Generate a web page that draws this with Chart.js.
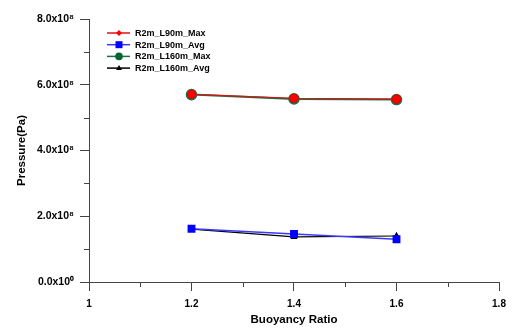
<!DOCTYPE html>
<html>
<head>
<meta charset="utf-8">
<script src="https://cdn.jsdelivr.net/npm/chart.js@4.4.0/dist/chart.umd.min.js"></script>
<style>
  body { margin: 0; background: #fff; }
  canvas { display: block; }
</style>
</head>
<body>
<canvas id="chart" width="515" height="332"></canvas>
<script>
const ratios = [1.2, 1.4, 1.6];
const l90Max = [5.71e8, 5.59e8, 5.56e8];
const l90Avg = [1.62e8, 1.46e8, 1.30e8];
const l160Max = [5.70e8, 5.57e8, 5.55e8];
const l160Avg = [1.61e8, 1.37e8, 1.40e8];
const seriesNames = ['R2m_L90m_Max', 'R2m_L90m_Avg', 'R2m_L160m_Max', 'R2m_L160m_Avg'];

const sup = {'0': '\u2070', '8': '\u2078'};
const font = 'Liberation Sans, Arial, sans-serif';

function toPoints(values) {
    return ratios.map((x, i) => ({x: x, y: values[i]}));
}

// legend box drawn inside the plot, plus minor ticks
const extras = {
    id: 'extras',
    afterDraw(chart) {
        const ctx = chart.ctx;
        const xs = chart.scales.x, ys = chart.scales.y;
        ctx.save();
        ctx.strokeStyle = '#444';
        ctx.lineWidth = 1;
        ctx.beginPath();
        for (let v = 1e8; v < 8e8; v += 2e8) {
            const py = Math.round(ys.getPixelForValue(v)) + 0.5;
            ctx.moveTo(xs.left - 5, py);
            ctx.lineTo(xs.left, py);
        }
        for (let v = 1.1; v < 1.8; v += 0.2) {
            const px = Math.round(xs.getPixelForValue(v)) + 0.5;
            ctx.moveTo(px, ys.bottom);
            ctx.lineTo(px, ys.bottom + 5);
        }
        ctx.stroke();

        const lx = 107, ly = 33, gap = 11.7;
        ctx.font = 'bold 9px ' + font;
        ctx.textBaseline = 'middle';
        chart.data.datasets.forEach((ds, i) => {
            const y = ly + i * gap;
            ctx.strokeStyle = ds.borderColor;
            ctx.lineWidth = 1.5;
            ctx.beginPath();
            ctx.moveTo(lx, y);
            ctx.lineTo(lx + 23, y);
            ctx.stroke();
            ctx.fillStyle = ds.pointBackgroundColor;
            const cx = lx + 12;
            ctx.beginPath();
            if (ds.legendMark === 'diamond') {
                ctx.moveTo(cx, y - 3); ctx.lineTo(cx + 3, y); ctx.lineTo(cx, y + 3); ctx.lineTo(cx - 3, y);
            } else if (ds.legendMark === 'square') {
                ctx.rect(cx - 3.5, y - 3.5, 7, 7);
            } else if (ds.legendMark === 'circle') {
                ctx.arc(cx, y, 3.8, 0, Math.PI * 2);
            } else {
                ctx.moveTo(cx, y - 3); ctx.lineTo(cx + 3, y + 2); ctx.lineTo(cx - 3, y + 2);
            }
            ctx.closePath();
            ctx.fill();
            ctx.fillStyle = '#000';
            ctx.fillText(seriesNames[i], lx + 28, y + 0.5);
        });
        ctx.restore();
    }
};

new Chart(document.getElementById('chart'), {
    type: 'line',
    data: {
        datasets: [
            {
                label: seriesNames[0], data: toPoints(l90Max), legendMark: 'diamond',
                borderColor: '#e01010', backgroundColor: '#ff0000', pointBackgroundColor: '#ff0000',
                pointBorderColor: '#e80000', pointStyle: 'circle', pointRadius: 4, borderWidth: 1.2
            },
            {
                label: seriesNames[1], data: toPoints(l90Avg), legendMark: 'square',
                borderColor: '#3a3aff', backgroundColor: '#0000ff', pointBackgroundColor: '#0000ff',
                pointBorderColor: '#0000ff', pointStyle: 'rect', pointRadius: 4.5, borderWidth: 1.5
            },
            {
                label: seriesNames[2], data: toPoints(l160Max), legendMark: 'circle',
                borderColor: '#1e6e46', backgroundColor: '#006633', pointBackgroundColor: '#006633',
                pointBorderColor: '#1e6e46', pointStyle: 'circle', pointRadius: 4.8, borderWidth: 2
            },
            {
                label: seriesNames[3], data: toPoints(l160Avg), legendMark: 'triangle',
                borderColor: '#000000', backgroundColor: '#000000', pointBackgroundColor: '#000000',
                pointBorderColor: '#000000', pointStyle: 'triangle', pointRadius: 3, borderWidth: 1.2
            }
        ]
    },
    options: {
        responsive: false,
        animation: false,
        layout: {padding: {top: 19, right: 16, left: 0, bottom: 0}},
        plugins: {legend: {display: false}, tooltip: {enabled: false}},
        scales: {
            x: {
                type: 'linear', min: 1, max: 1.8,
                afterFit: s => { s.height = 50; },
                border: {color: '#444', width: 1},
                grid: {drawOnChartArea: false, tickLength: 9, color: '#444'},
                ticks: {
                    stepSize: 0.2, color: '#000', padding: 7,
                    font: {family: font, size: 10, weight: 'bold'},
                    callback: v => String(Number(v.toFixed(1)))
                },
                title: {display: true, text: 'Buoyancy Ratio', color: '#000', padding: {top: 0, bottom: 5},
                        font: {family: font, size: 11.5, weight: 'bold'}}
            },
            y: {
                min: 0, max: 8e8,
                afterFit: s => { s.width = 89; },
                border: {color: '#444', width: 1},
                grid: {drawOnChartArea: false, tickLength: 9, color: '#444'},
                ticks: {
                    stepSize: 2e8, color: '#000', padding: 6,
                    font: {family: font, size: 10.5, weight: 'bold'},
                    callback: v => {
                        const m = (v / 1e8).toFixed(1);
                        return v === 0 ? '0.0x10' + sup['0'] : m + 'x10' + sup['8'];
                    }
                },
                title: {display: true, text: 'Pressure(Pa)', color: '#000', padding: {top: 15, bottom: 0},
                        font: {family: font, size: 11.5, weight: 'bold'}}
            }
        }
    },
    plugins: [extras]
});
</script>
</body>
</html>
